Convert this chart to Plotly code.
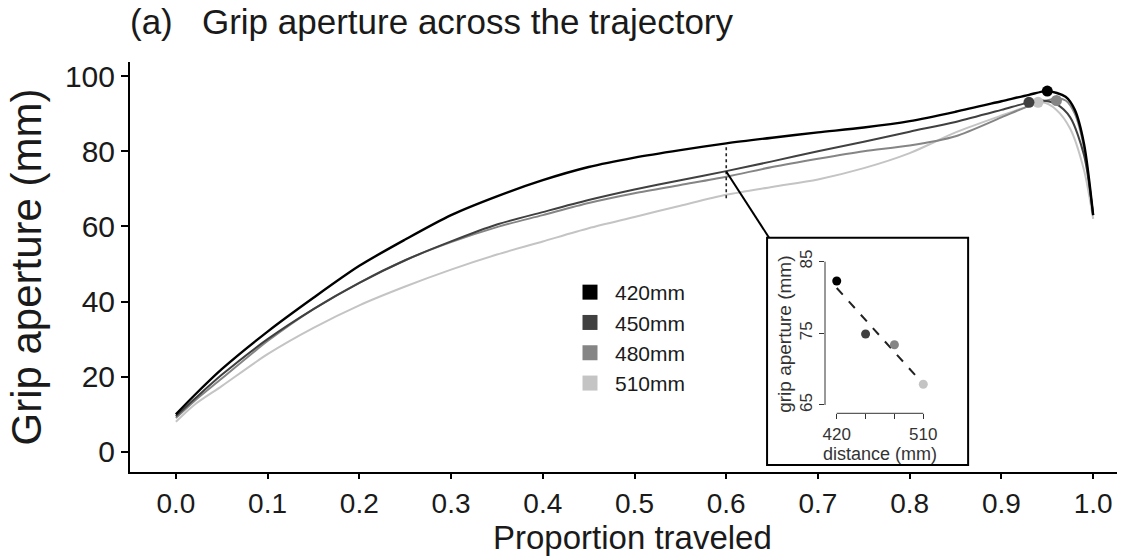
import numpy as np
import plotly.graph_objects as go

# ---------------- data ----------------
distances = ["420mm", "450mm", "480mm", "510mm"]
colors = ["#000000", "#404040", "#858585", "#c4c4c4"]

x_base = [0, 0.02, 0.05, 0.1, 0.15, 0.2, 0.25, 0.3, 0.35, 0.4, 0.45, 0.5,
          0.55, 0.6, 0.65, 0.7, 0.75, 0.8, 0.85, 0.9]

y_420 = [10, 15, 22, 32, 41, 49.5, 56.5, 63, 68, 72.3, 75.8, 78.3, 80.3, 82.1,
         83.6, 85, 86.3, 88, 90.5, 93.3]
y_450 = [9.5, 14, 20.5, 30, 38, 45, 51, 56, 60.5, 63.8, 67, 69.8, 72.3, 74.7,
         77.3, 80, 82.5, 85.2, 87.8, 91]
y_480 = [9, 13.5, 19.5, 29.5, 38, 45, 51, 55.8, 59.8, 63, 66.2, 68.8, 71, 73.2,
         75.8, 78, 80, 81.5, 84, 89]
y_510 = [8, 12.5, 17.5, 26, 33, 39, 44, 48.5, 52.5, 56, 59.5, 62.5, 65.5, 68.4,
         70.5, 72.5, 75.5, 79.5, 85, 89.5]

x_tail_420 = [0.93, 0.95, 0.97, 0.98, 0.99, 1.0]
y_tail_420 = [95, 96, 94.5, 91, 82, 63]
x_tail_450 = [0.93, 0.945, 0.96, 0.975, 0.99, 1.0]
y_tail_450 = [93, 93.5, 92.5, 89, 79, 63]
x_tail_480 = [0.93, 0.96, 0.97, 0.98, 0.99, 1.0]
y_tail_480 = [92, 94, 93.5, 90, 81, 63]
x_tail_510 = [0.93, 0.945, 0.96, 0.975, 0.99, 1.0]
y_tail_510 = [92, 93, 91, 86, 75, 62]

peak_x = [0.95, 0.93, 0.96, 0.94]
peak_y = [96, 93, 93.5, 93]

# inset: grip aperture at 60% of trajectory vs distance
inset_dist = [420, 450, 480, 510]
inset_aperture = [82.3, 74.9, 73.4, 67.9]

x_ticks = [0.0, 0.1, 0.2, 0.3, 0.4, 0.5, 0.6, 0.7, 0.8, 0.9, 1.0]
y_ticks = [0, 20, 40, 60, 80, 100]

FONT = "Liberation Sans, Arial, sans-serif"
TXT = "#1a1a1a"

fig = go.Figure()

series = [
    (x_base + x_tail_420, y_420 + y_tail_420),
    (x_base + x_tail_450, y_450 + y_tail_450),
    (x_base + x_tail_480, y_480 + y_tail_480),
    (x_base + x_tail_510, y_510 + y_tail_510),
]
# draw light first so black is on top
for i in [3, 2, 1, 0]:
    xs, ys = series[i]
    fig.add_trace(go.Scatter(
        x=xs, y=ys, mode="lines",
        line=dict(color=colors[i], width=2.4 if i == 0 else 2.0,
                  shape="spline", smoothing=0.8),
        showlegend=False, hoverinfo="skip"))

for i in [3, 2, 1, 0]:
    fig.add_trace(go.Scatter(
        x=[peak_x[i]], y=[peak_y[i]], mode="markers",
        marker=dict(color=colors[i], size=11),
        showlegend=False, hoverinfo="skip"))

# legend entries
for i in range(4):
    fig.add_trace(go.Scatter(
        x=[None], y=[None], mode="markers", name=distances[i],
        marker=dict(color=colors[i], size=15, symbol="square"),
        legendgroup=distances[i], showlegend=True))

# inset scatter + regression
slope, intercept = np.polyfit(inset_dist, inset_aperture, 1)
fit_x = [min(inset_dist), max(inset_dist)]
fit_y = [slope * v + intercept for v in fit_x]
fig.add_trace(go.Scatter(
    x=fit_x, y=fit_y, mode="lines", xaxis="x2", yaxis="y2",
    line=dict(color="#222222", width=2, dash="dash"),
    showlegend=False, hoverinfo="skip"))
fig.add_trace(go.Scatter(
    x=inset_dist, y=inset_aperture, mode="markers", xaxis="x2", yaxis="y2",
    marker=dict(color=colors, size=9),
    showlegend=False, hoverinfo="skip"))

# dotted line at 0.6 and connector
fig.add_shape(type="line", xref="x", yref="y", x0=0.6, x1=0.6, y0=67.5, y1=81.3,
              line=dict(color="#222222", width=1.6, dash="dot"))
fig.add_shape(type="line", xref="x", yref="y", x0=0.6, x1=0.6467, y0=74.6, y1=57.0,
              line=dict(color="#000000", width=2))
# inset box
fig.add_shape(type="rect", xref="x", yref="y", x0=0.6445, x1=0.8637, y0=-3.5, y1=57.0,
              line=dict(color="#000000", width=2), fillcolor="rgba(0,0,0,0)")
# inset axis lines (range-limited, base R style)
fig.add_shape(type="line", xref="x2 domain", yref="y2", x0=0, x1=0, y0=65, y1=85,
              line=dict(color="#333333", width=1))
fig.add_shape(type="line", xref="x2", yref="y2 domain", x0=420, x1=510, y0=0, y1=0,
              line=dict(color="#333333", width=1))

# x-axis title as annotation (keeps it clear of the tick labels)
fig.add_annotation(text="Proportion traveled", xref="paper", yref="paper",
                   x=(632 - 130) / 987, y=(472 - 537) / 410,
                   xanchor="center", yanchor="middle", showarrow=False,
                   font=dict(size=33, family=FONT, color=TXT))

fig.update_layout(
    width=1139, height=560,
    margin=dict(l=130, r=22, t=62, b=88),
    paper_bgcolor="white", plot_bgcolor="rgba(0,0,0,0)",
    font=dict(family=FONT, color=TXT),
    title=dict(text="(a)\u00a0\u00a0\u00a0Grip aperture across the trajectory",
               x=130 / 1139, xanchor="left", y=1 - 22 / 560, yanchor="middle",
               font=dict(size=35, family=FONT, color=TXT)),
    xaxis=dict(range=[-0.05, 1.026], tickvals=x_ticks, automargin=False,
               ticktext=[f"{v:.1f}" for v in x_ticks],
               showline=True, linecolor="#000000", linewidth=2,
               ticks="outside", ticklen=5, tickwidth=1.5, tickcolor="#000000",
               showgrid=False, zeroline=False,
               tickfont=dict(size=28, family=FONT, color=TXT)),
    yaxis=dict(range=[-5.35, 103.74], tickvals=y_ticks, automargin=False,
               showline=True, linecolor="#000000", linewidth=2,
               ticks="outside", ticklen=7, tickwidth=1.5, tickcolor="#000000",
               showgrid=False, zeroline=False,
               tickfont=dict(size=30, family=FONT, color=TXT),
               title=dict(text="Grip aperture (mm)", standoff=10,
                          font=dict(size=42, family=FONT, color=TXT))),
    xaxis2=dict(domain=[(825 - 130) / 987, (935 - 130) / 987], anchor="y2",
                range=[407.8, 522.2], tickvals=[420, 450, 480, 510],
                ticktext=["420", "", "", "510"], automargin=False,
                showline=False, ticks="outside", ticklen=5, tickwidth=1,
                tickcolor="#333333", showgrid=False, zeroline=False,
                tickfont=dict(size=17, family=FONT, color="#333333"),
                title=dict(text="distance (mm)", standoff=0,
                           font=dict(size=18, family=FONT, color="#333333"))),
    yaxis2=dict(domain=[(472 - 413.3) / 410, (472 - 255) / 410], anchor="x2",
                range=[63.84, 85.93], tickvals=[65, 75, 85], tickangle=-90,
                automargin=False,
                showline=False, ticks="outside", ticklen=5, tickwidth=1,
                tickcolor="#333333", showgrid=False, zeroline=False,
                tickfont=dict(size=17, family=FONT, color="#333333"),
                title=dict(text="grip aperture (mm)", standoff=0,
                           font=dict(size=19, family=FONT, color="#333333"))),
    legend=dict(x=(565 - 130) / 987, y=(472 - 272) / 410, xanchor="left", yanchor="top",
                font=dict(size=21, family=FONT, color=TXT),
                traceorder="grouped", tracegroupgap=0,
                bgcolor="rgba(0,0,0,0)", itemwidth=40),
)

fig.write_html("out.html")
